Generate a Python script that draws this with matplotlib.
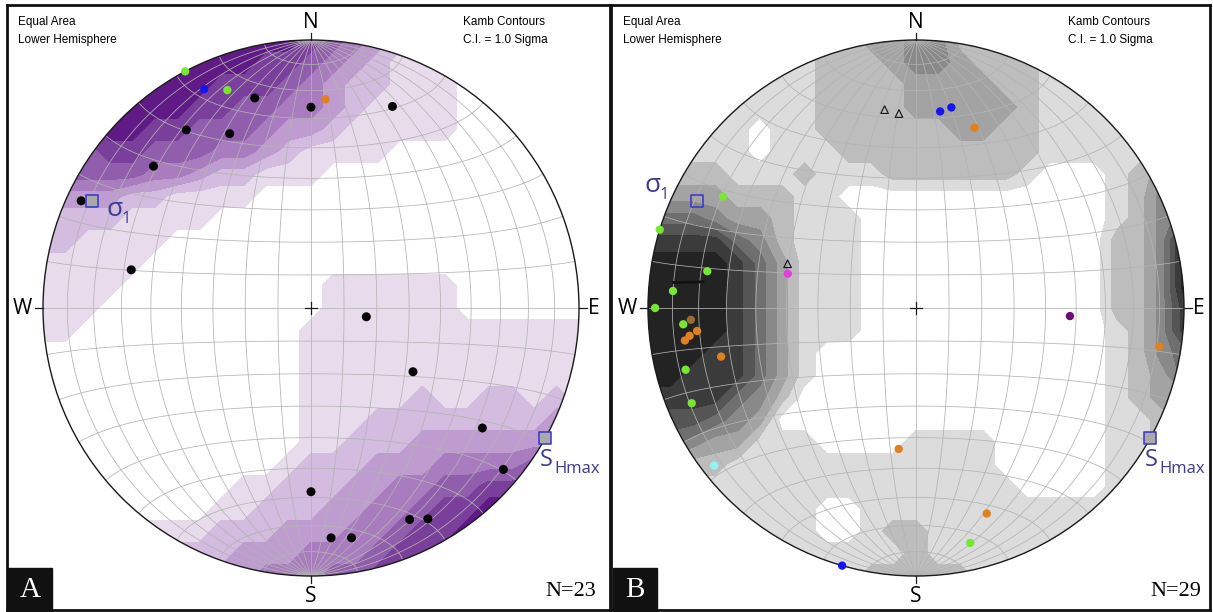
import numpy as np
import matplotlib
matplotlib.use('Agg')
import matplotlib.pyplot as plt
from matplotlib.patches import Circle, Rectangle

# Kamb contour levels, on a 25 x 25 node grid over the net
# (row 0 = north edge, column 0 = west edge), one digit per node
grid_a = [
    '7777777777776543211000000',
    '7777777777665432111000000',
    '7777777766654322111000000',
    '7777777665544321111000000',
    '6667766555433211111000000',
    '5556655544321111000000000',
    '5555544322111000000000000',
    '3333221111000000000000000',
    '2222111100000000000000000',
    '2211110000000000000000000',
    '1111100000000000000000000',
    '1111000000000111111000000',
    '1110000000000111111000000',
    '1100000000001111111111111',
    '0000000000001111111111111',
    '0000000000001111111111111',
    '0000000000001111121122121',
    '0000000000001112222222233',
    '0000000000001122233333334',
    '0000000000012223334444555',
    '0000000001122233445566666',
    '0000000011222334456677777',
    '1111111122233344566777777',
    '1122222223334445667777777',
    '2222222233444556677777777',
]
grid_b = [
    '1111111122334422211111111',
    '1111111122234432221111111',
    '1111111122223333221111111',
    '1111111122223333321111111',
    '1111101122222233221111111',
    '1111101112222222221111111',
    '2222111211122222210001233',
    '3333222110000000000001244',
    '5554332111000000000001245',
    '7777542111000000000002248',
    '8888753111000000000002248',
    '8888753111000000000002248',
    '8888753111000000000002247',
    '8888753111000000000001247',
    '8887753100000000000001245',
    '8877753100000000000001235',
    '7777542000000000000001233',
    '7665430000000000000001122',
    '5543311100001111000001122',
    '2222111111111111000001111',
    '1111111111111111100001111',
    '1111111100111111111111111',
    '1111111100122111111111111',
    '1111111111112111111111111',
    '1111111111222221111111111',
]

# poles, trend / plunge in degrees
a_green_trend = [332, 339]
a_green_plunge = [0, 14]
a_blue_trend = [334]
a_blue_plunge = [10]
a_orange_trend = [4]
a_orange_plunge = [23]
a_black_trend = [345, 0, 22, 325, 335, 312, 295, 282, 99, 122, 125, 130, 180, 155, 151, 175, 170]
a_black_plunge = [20, 26, 20, 20, 29, 22, 6, 32, 73, 53, 23, 7, 32, 14, 11, 15, 14]
b_blue_trend = [7, 10, 196]
b_blue_plunge = [27, 25, 0]
b_orange_trend = [18, 264, 263, 262, 256, 99, 187, 161]
b_orange_plunge = [30, 19, 16, 14, 26, 9, 46, 20]
b_green_trend = [300, 287, 280, 274, 270, 266, 255, 247, 167]
b_green_plunge = [18, 0, 22, 10, 3, 14, 12, 10, 11]
b_other_trend = [267, 285, 232, 93]
b_other_plunge = [17, 49, 5, 42]
b_other_colors = ['#9b6b35', '#e23ee2', '#8ef3f3', '#6a0f6f']
b_tri_trend = [351, 355, 289]
b_tri_plunge = [26, 28, 48]
b_line_trend = [276, 277]
b_line_plunge = [10, 21]
sigma1_trend, sigma1_plunge = 296, 10
shmax_trend, shmax_plunge = 119, 0

purples = ['#e8dcec', '#d3bcdf', '#be9ccf', '#a87cbe', '#915dad', '#7a3e9b', '#601a85']
greys = ['#dcdcdc', '#bdbdbd', '#a3a3a3', '#898989', '#6f6f6f', '#555555', '#3b3b3b', '#232323']
GRID = '#b3b3b3'
LABEL = '#3b3b8f'

R = 268.0
CA = (311.0, 308.0)
CB = (916.0, 308.0)
FW, FH = 1213, 612
fig = plt.figure(figsize=(12.13, 6.12), dpi=100)


def make_panel(x0, x1, y0, y1, c):
    ax = fig.add_axes([x0 / FW, 1 - y1 / FH, (x1 - x0) / FW, (y1 - y0) / FH])
    ax.set_xlim((x0 - c[0]) / R, (x1 - c[0]) / R)
    ax.set_ylim((c[1] - y1) / R, (c[1] - y0) / R)
    ax.set_xticks([])
    ax.set_yticks([])
    for s in ax.spines.values():
        s.set_linewidth(2.0)
        s.set_color('#111111')
    return ax


def proj(e, n, d):
    # Lambert equal-area, lower hemisphere, primitive radius 1
    k = 1.0 / np.sqrt(1.0 + d)
    return e * k, n * k


def tp_xy(trend, plunge):
    tr = np.radians(trend)
    pl = np.radians(plunge)
    return proj(np.cos(pl) * np.sin(tr), np.cos(pl) * np.cos(tr), np.sin(pl))


def draw_density(ax, grid, colors):
    Z = np.array([[int(ch) for ch in row] for row in grid])
    g = np.linspace(-1, 1, Z.shape[0])
    Xg, Yg = np.meshgrid(g, g[::-1])
    cs = ax.contourf(Xg, Yg, Z, levels=np.arange(0.5, len(colors) + 1), colors=colors, zorder=1)
    cs.set_clip_path(Circle((0, 0), 1, transform=ax.transData))


def draw_net(ax):
    s = np.radians(np.linspace(0, 180, 241))
    for b in np.radians(np.arange(10, 180, 10)):
        x, y = proj(np.sin(s) * np.cos(b), np.cos(s), np.sin(s) * np.sin(b))
        ax.plot(x, y, color=GRID, lw=0.55, zorder=2)
    for a in np.radians(np.arange(10, 180, 10)):
        x, y = proj(np.sin(a) * np.cos(s), np.cos(a) * np.ones_like(s), np.sin(a) * np.sin(s))
        ax.plot(x, y, color=GRID, lw=0.55, zorder=2)
    ax.add_patch(Circle((0, 0), 1, fill=False, ec='#1a1a1a', lw=1.0, zorder=3))
    k = dict(color='#1a1a1a', lw=0.9, zorder=3)
    ax.plot([0, 0], [1, 1.025], **k)
    ax.plot([0, 0], [-1, -1.025], **k)
    ax.plot([-1.03, -1], [0, 0], **k)
    ax.plot([1, 1.03], [0, 0], **k)
    ax.plot([-0.022, 0.022], [0, 0], **k)
    ax.plot([0, 0], [-0.022, 0.022], **k)


def ftxt(x, y, s, **kw):
    fig.text(x / FW, 1 - y / FH, s, **kw)


def dots(ax, tr, pl, color, size=36, **kw):
    x, y = tp_xy(np.array(tr), np.array(pl))
    ax.scatter(x, y, s=size, c=color, edgecolors='none', zorder=5, **kw)


axA = make_panel(7, 610, 5, 610, CA)
axB = make_panel(611, 1210, 5, 610, CB)
draw_density(axA, grid_a, purples)
draw_density(axB, grid_b, greys)
for ax in (axA, axB):
    draw_net(ax)

dots(axA, a_black_trend, a_black_plunge, '#050505', 42)
dots(axA, a_green_trend, a_green_plunge, '#78e632')
dots(axA, a_blue_trend, a_blue_plunge, '#1414f0')
dots(axA, a_orange_trend, a_orange_plunge, '#e0801e')
dots(axB, b_blue_trend, b_blue_plunge, '#1414f0')
dots(axB, b_orange_trend, b_orange_plunge, '#e0801e')
dots(axB, b_green_trend, b_green_plunge, '#78e632')
dots(axB, b_other_trend, b_other_plunge, b_other_colors)
x, y = tp_xy(np.array(b_tri_trend), np.array(b_tri_plunge))
axB.scatter(x, y, s=30, marker='^', facecolors='none', edgecolors='#111111', linewidths=0.8, zorder=5)
x, y = tp_xy(np.array(b_line_trend), np.array(b_line_plunge))
axB.plot(x, y, color='#111111', lw=2.0, zorder=5)

for ax, fill in ((axA, '#a9a9a9'), (axB, 'none')):
    x, y = tp_xy(sigma1_trend, sigma1_plunge)
    ax.scatter([x], [y], s=80, marker='s', facecolors=fill, edgecolors='#3434d0', linewidths=1.1, zorder=6)
    x, y = tp_xy(shmax_trend, shmax_plunge)
    ax.scatter([x], [y], s=80, marker='s', facecolors='#a9a9a9', edgecolors='#3434d0', linewidths=1.1, zorder=6)

sans = ['Liberation Sans', 'DejaVu Sans']
comp = ['Open Sans', 'DejaVu Sans']
serif = ['Liberation Serif', 'DejaVu Serif']
for dx, (cx, letter, ntxt, sig) in zip((0, 605), ((311, 'A', 'N=23', (106, 210)), (916, 'B', 'N=29', (644, 186)))):
    ftxt(18 + dx, 22, 'Equal Area', fontsize=8.5, family=sans, va='center')
    ftxt(18 + dx, 40, 'Lower Hemisphere', fontsize=8.5, family=sans, va='center')
    ftxt(463 + dx, 22, 'Kamb Contours', fontsize=8.5, family=sans, va='center')
    ftxt(463 + dx, 40, 'C.I. = 1.0 Sigma', fontsize=8.5, family=sans, va='center')
    ftxt(cx, 23, 'N', fontsize=15, family=comp, ha='center', va='center')
    ftxt(cx, 597, 'S', fontsize=15, family=comp, ha='center', va='center')
    ftxt(cx - 289, 308, 'W', fontsize=15, family=comp, ha='center', va='center')
    ftxt(cx + 283, 308, 'E', fontsize=15, family=comp, ha='center', va='center')
    ftxt(596 + dx, 592, ntxt, fontsize=16, family=serif, ha='right', va='center')
    fig.patches.append(Rectangle(((8 + dx) / FW, 0), 44 / FW, 44 / FH, transform=fig.transFigure,
                                 color='#111111', zorder=5))
    ftxt(30 + dx, 590, letter, fontsize=21, family=serif, color='white', ha='center', va='center', zorder=6)
    ftxt(sig[0], sig[1], 'σ', fontsize=19, family=comp, color=LABEL, ha='left', va='center')
    ftxt(sig[0] + 16, sig[1] + 9, '1', fontsize=12, family=comp, color=LABEL, ha='left', va='center')
    ftxt(540 + dx, 460, 'S', fontsize=17, family=comp, color=LABEL, ha='left', va='center')
    ftxt(554 + dx, 469, 'Hmax', fontsize=12, family=comp, color=LABEL, ha='left', va='center')

fig.savefig('out.png', dpi=100)
